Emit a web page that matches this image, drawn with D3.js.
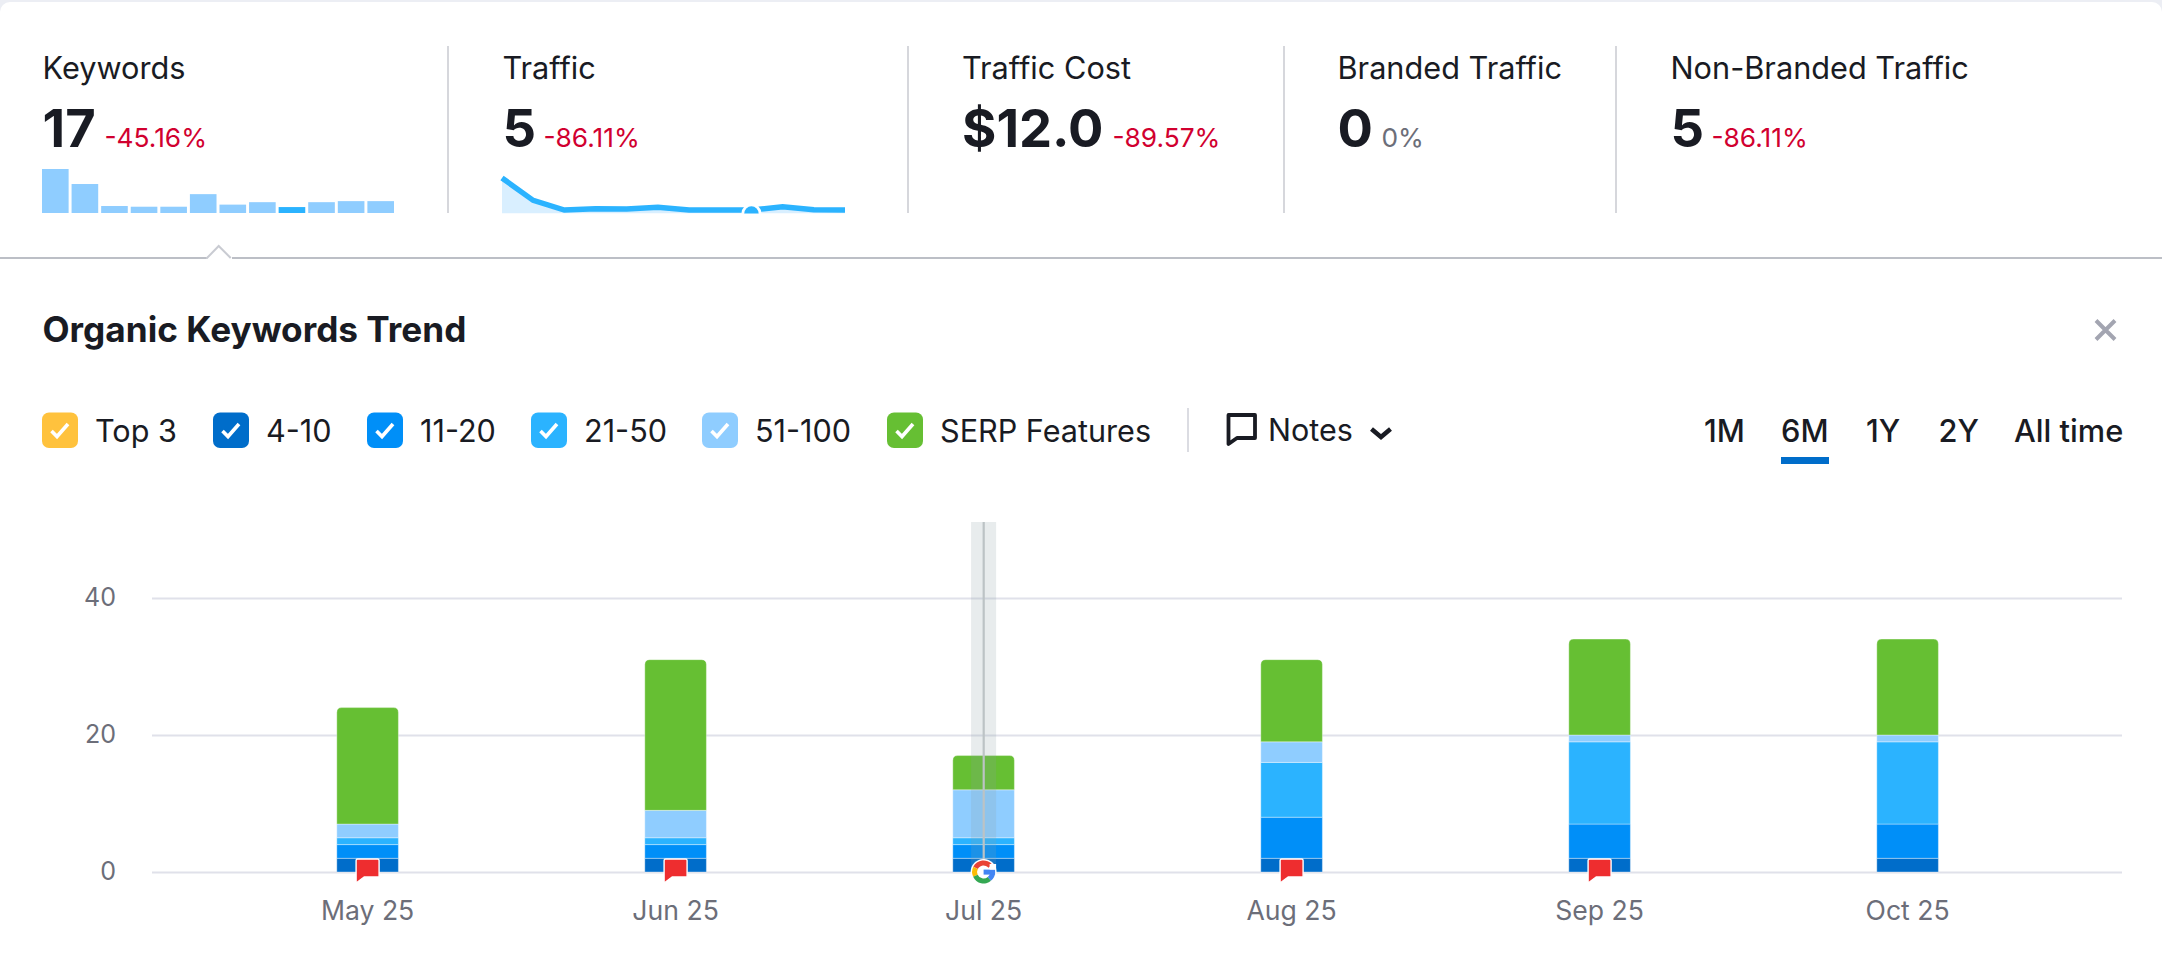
<!DOCTYPE html>
<html>
<head>
<meta charset="utf-8">
<script src="https://cdn.jsdelivr.net/npm/d3@7/dist/d3.min.js"></script>
<style>
html,body{margin:0;padding:0;background:#fff;overflow:hidden}
svg{display:block;font-family:Inter,"Noto Sans",sans-serif}
</style>
</head>
<body>
<svg id="c" width="2162" height="972"></svg>
<script>
// ---- data ----
const months = ["May 25","Jun 25","Jul 25","Aug 25","Sep 25","Oct 25"];
const seriesNames = ["Top 3","4-10","11-20","21-50","51-100","SERP Features"];
const top3    = [0,0,0,0,0,0];
const pos4_10 = [2,2,2,2,2,2];
const pos11_20= [2,2,2,6,5,5];
const pos21_50= [1,1,1,8,12,12];
const pos51_100=[2,4,7,3,1,1];
const serp    = [17,22,5,12,14,14];
const yTicks  = [0,20,40];
const noteFlags = ["May 25","Jun 25","Aug 25","Sep 25"];
const googleNote = "Jul 25";
const statLabels = ["Keywords","Traffic","Traffic Cost","Branded Traffic","Non-Branded Traffic"];
const statValues = ["17","5","$12.0","0","5"];
const statDeltas = ["-45.16%","-86.11%","-89.57%","0%","-86.11%"];
const keywordSpark = [126,83,20,18,18,54,24,31,17,31,34,34];
const trafficSpark = [36,13,3,4.3,4,6,3,3,3,6.3,3.3,3];
const sparkActiveIndex = 8;
const ranges = ["1M","6M","1Y","2Y","All time"];
const activeRange = "6M";

// ---- styles / layout ----
const colors = {"Top 3":"#ffc23d","4-10":"#006dca","11-20":"#008ff8","21-50":"#2bb3ff","51-100":"#8fcdff","SERP Features":"#66bf33"};
const seriesData = {"Top 3":top3,"4-10":pos4_10,"11-20":pos11_20,"21-50":pos21_50,"51-100":pos51_100,"SERP Features":serp};
const ink="#191b23", gray="#6c6e79", red="#d1002f";
const svg=d3.select("#c");

// card
svg.append("rect").attr("width",2162).attr("height",972).attr("fill","#eceef4");
svg.append("rect").attr("y",2).attr("width",2162).attr("height",990).attr("rx",10).attr("fill","#fff");

// stat columns
const statX=[42.5,502.5,962,1337.5,1670.5];
const deltaDx=[62,41,150.5,44,41];
const stat=svg.append("g").selectAll("g").data(statLabels).join("g").attr("transform",(d,i)=>`translate(${statX[i]},0)`);
stat.append("text").text(d=>d).attr("y",79).attr("font-size",30.7).attr("fill",ink).attr("font-weight",400);
stat.append("text").text((d,i)=>statValues[i]).attr("y",147).attr("font-size",52.5).attr("font-weight",700).attr("fill",ink);
stat.append("text").text((d,i)=>statDeltas[i]).attr("y",147).attr("font-size",26.3).attr("font-weight",400)
  .attr("fill",(d,i)=>statDeltas[i].startsWith("-")?red:gray)
  .attr("x",(d,i)=>deltaDx[i]);
svg.append("g").selectAll("line").data([448,908,1284,1616]).join("line")
  .attr("x1",d=>d).attr("x2",d=>d).attr("y1",46).attr("y2",213).attr("stroke","#c8cad0").attr("stroke-width",1.5);

// keyword sparkbars
const sx=d3.scaleBand().domain(d3.range(keywordSpark.length)).range([42,394]).paddingInner(0.1);
const sy=d3.scaleLinear().domain([0,126]).range([213,169]);
svg.append("g").selectAll("rect").data(keywordSpark).join("rect")
  .attr("x",(d,i)=>sx(i)).attr("width",sx.bandwidth()).attr("y",d=>sy(d)).attr("height",d=>sy(0)-sy(d))
  .attr("fill",(d,i)=>i===sparkActiveIndex?colors["21-50"]:colors["51-100"]);

// traffic sparkline
const tx=d3.scalePoint().domain(d3.range(trafficSpark.length)).range([502,845]);
const ty=d3.scaleLinear().domain([0,36]).range([213,178]);
svg.append("clipPath").attr("id","sparkclip").append("rect").attr("x",480).attr("y",160).attr("width",400).attr("height",53.5);
const spark=svg.append("g").attr("clip-path","url(#sparkclip)");
spark.append("path").datum(trafficSpark)
  .attr("d",d3.area().x((d,i)=>tx(i)).y0(213.5).y1(d=>ty(d))).attr("fill","#d9efff");
spark.append("path").datum(trafficSpark)
  .attr("d",d3.line().x((d,i)=>tx(i)).y(d=>ty(d))).attr("fill","none").attr("stroke",colors["21-50"]).attr("stroke-width",5.5);
spark.append("circle").attr("cx",tx(sparkActiveIndex)).attr("cy",213.5).attr("r",10).attr("fill","#fff");
spark.append("circle").attr("cx",tx(sparkActiveIndex)).attr("cy",213.5).attr("r",7.2).attr("fill",colors["21-50"]);

// separator + notch
svg.append("path").attr("d","M0 258H207L218.7 246L230.7 258").attr("fill","none").attr("stroke","#c9cbd2").attr("stroke-width",2);
svg.append("path").attr("d","M232 258H2162").attr("fill","none").attr("stroke","#bcbfc6").attr("stroke-width",2);
svg.append("path").attr("d","M0 258H206").attr("fill","none").attr("stroke","#bcbfc6").attr("stroke-width",2);

// title + close
svg.append("text").text("Organic Keywords Trend").attr("x",42.5).attr("y",342).attr("font-size",35.2).attr("font-weight",700).attr("fill",ink);
svg.append("path").attr("d","M2096 321L2115 340M2115 321L2096 340").attr("stroke","#a3a5b1").attr("stroke-width",4).attr("fill","none").attr("transform","translate(0,-0.5)");

// legend
const legendX=[42,213,367,531,702,887];
const leg=svg.append("g").selectAll("g").data(seriesNames).join("g").attr("transform",(d,i)=>`translate(${legendX[i]},412.5)`);
leg.append("rect").attr("width",36).attr("height",35.5).attr("rx",7).attr("fill",d=>colors[d]);
leg.append("path").attr("d","M9.5 18.5L15 24L26 11.5").attr("fill","none").attr("stroke","#fff").attr("stroke-width",3.6);
leg.append("text").text(d=>d).attr("x",53).attr("y",29).attr("font-size",30.6).attr("fill",ink);

svg.append("line").attr("x1",1188).attr("x2",1188).attr("y1",408).attr("y2",452).attr("stroke","#cfd1d8").attr("stroke-width",1.5);
svg.append("path").attr("d","M1228.5 415H1255V438H1237L1228.5 444Z")
  .attr("fill","none").attr("stroke",ink).attr("stroke-width",3.8).attr("stroke-linejoin","round");
svg.append("text").text("Notes").attr("x",1268).attr("y",441).attr("font-size",30.5).attr("font-weight",400).attr("fill",ink);
svg.append("path").attr("d","M1371.5 429L1381 437L1390.5 429").attr("fill","none").attr("stroke",ink).attr("stroke-width",4.5);

// range tabs
const rangeX=[1704,1781,1866,1938.5,2014];
svg.append("g").selectAll("text").data(ranges).join("text").text(d=>d)
  .attr("x",(d,i)=>rangeX[i]).attr("y",442).attr("font-size",30.8).attr("font-weight",500).attr("fill",ink);
svg.append("rect").attr("x",1781).attr("y",457).attr("width",48).attr("height",7).attr("fill","#006dca");

// main chart
const x=d3.scaleBand().domain(months).range([213.6,2061.6]).paddingInner(0.8).paddingOuter(0.4);
const y=d3.scaleLinear().domain([0,40]).range([872,598]);
const grid=svg.append("g").attr("transform","translate(152,0)")
  .call(d3.axisLeft(y).tickValues(yTicks).tickSize(-1970).tickPadding(36));
grid.select(".domain").remove();
grid.selectAll("line").attr("stroke","#e0e1ea").attr("stroke-width",2);
grid.selectAll("text").attr("font-size",25).attr("font-family","Inter").attr("fill",gray).attr("dy","0.3em");

const stackKeys=seriesNames;
const rows=months.map((m,i)=>{const r={month:m};stackKeys.forEach(k=>r[k]=seriesData[k][i]);return r;});
const stacked=d3.stack().keys(stackKeys)(rows);
const barG=svg.append("g");
stacked.forEach(s=>{
  barG.append("g").selectAll("path").data(s.filter(d=>d[1]>d[0])).join("path")
    .attr("fill",colors[s.key])
    .attr("stroke","rgba(255,255,255,0.35)").attr("stroke-width",1)
    .attr("d",d=>{
      const x0=x(d.data.month),w=x.bandwidth(),t=y(d[1]),b=y(d[0]);
      if(s.key!=="SERP Features") return `M${x0} ${t}H${x0+w}V${b}H${x0}Z`;
      const r=5;
      return `M${x0} ${b}V${t+r}Q${x0} ${t} ${x0+r} ${t}H${x0+w-r}Q${x0+w} ${t} ${x0+w} ${t+r}V${b}Z`;
    });
});

// highlight band on the Google update month
const gx=x(googleNote)+x.bandwidth()/2;
svg.append("rect").attr("x",gx-12.5).attr("width",25).attr("y",522).attr("height",350).attr("fill","rgba(140,158,165,0.2)");
svg.append("rect").attr("x",gx-1).attr("width",2.2).attr("y",522).attr("height",350).attr("fill","#bcc3c5");

// note flags
svg.append("g").selectAll("path").data(noteFlags).join("path")
  .attr("transform",d=>`translate(${x(d)+x.bandwidth()/2},0)`)
  .attr("d","M-11.5 860.5Q-11.5 859 -10 859H10Q11.5 859 11.5 860.5V877H-3.5L-11.5 883Z")
  .attr("fill","#ee2d2f").attr("stroke","#fff").attr("stroke-width",1.4).attr("stroke-linejoin","round");

// google marker
const g=svg.append("g").attr("transform",`translate(${gx},872)`);
g.append("circle").attr("r",13).attr("fill","#fff");
const arc=d3.arc().innerRadius(6.5).outerRadius(11.5);
const seg=(c,a,b)=>g.append("path").attr("d",arc({startAngle:a,endAngle:b})).attr("fill",c);
seg("#ea4335",-1.1,0.85);
seg("#fbbc05",-2.0,-1.1);
seg("#34a853",-3.84,-2.0);
seg("#4285f4",1.57,2.45);
g.append("rect").attr("x",0).attr("y",-2.4).attr("width",11.5).attr("height",5).attr("fill","#4285f4");
g.append("rect").attr("x",6).attr("y",-8).attr("width",6.5).attr("height",5.6).attr("fill","#fff");

// x labels
const xa=svg.append("g").attr("transform","translate(0,872)").call(d3.axisBottom(x).tickSize(0).tickPadding(29));
xa.select(".domain").remove();
xa.selectAll("text").attr("font-size",26.6).attr("font-family","Inter").attr("fill",gray);
</script>
</body>
</html>
